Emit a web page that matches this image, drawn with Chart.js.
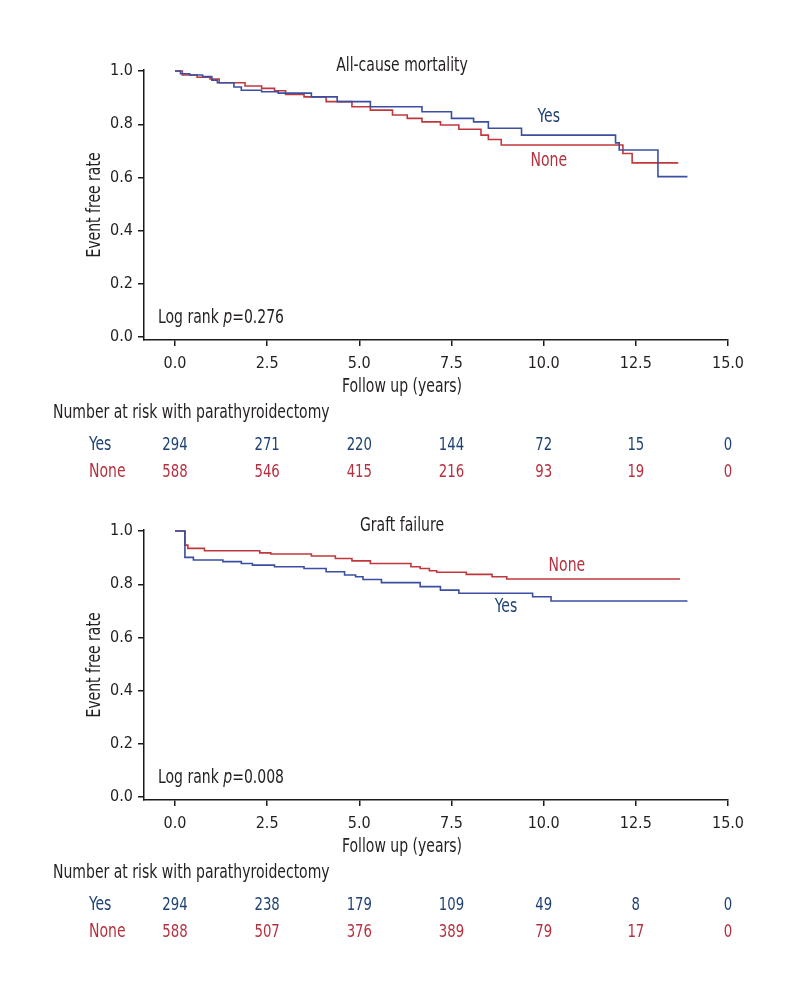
<!DOCTYPE html>
<html>
<head>
<meta charset="utf-8">
<script src="https://cdn.jsdelivr.net/npm/chart.js@4.4.1/dist/chart.umd.min.js"></script>
<style>
  html, body { margin: 0; padding: 0; background: #ffffff; }
  #wrap { width: 800px; height: 1000px; position: relative; }
  .box { position: absolute; left: 0; width: 800px; height: 500px; }
</style>
</head>
<body>
<div id="wrap">
  <div class="box" style="top:0px"><canvas id="c1" width="800" height="500"></canvas></div>
  <div class="box" style="top:460px"><canvas id="c2" width="800" height="500"></canvas></div>
</div>
<script>
// ---------- data ----------
const xTicks = [0, 2.5, 5, 7.5, 10, 12.5, 15];
const yTicks = [0, 0.2, 0.4, 0.6, 0.8, 1.0];
const groupLabels = ['Yes', 'None'];

const mortalityYesTime = [0, 0.15, 0.4, 0.75, 1.0, 1.15, 1.6, 1.8, 2.35, 2.8, 3.7, 4.4, 5.3, 6.7, 7.5, 8.1, 8.5, 9.4, 11.95, 12.05, 13.1, 13.9];
const mortalityYesSurv = [1.0, 0.99, 0.985, 0.979, 0.966, 0.956, 0.94, 0.928, 0.922, 0.917, 0.903, 0.885, 0.866, 0.847, 0.822, 0.809, 0.785, 0.759, 0.73, 0.703, 0.603, 0.603];
const mortalityNoneTime = [0, 0.2, 0.6, 0.95, 1.2, 1.9, 2.35, 2.7, 3.0, 3.5, 4.1, 4.8, 5.3, 5.9, 6.3, 6.7, 7.2, 7.7, 8.3, 8.5, 8.85, 12.15, 12.4, 13.65];
const mortalityNoneSurv = [1.0, 0.985, 0.977, 0.97, 0.956, 0.944, 0.935, 0.926, 0.912, 0.903, 0.885, 0.866, 0.853, 0.835, 0.822, 0.809, 0.797, 0.781, 0.759, 0.743, 0.722, 0.69, 0.655, 0.655];

const graftYesTime = [0, 0.27, 0.5, 1.3, 1.8, 2.1, 2.7, 3.5, 4.1, 4.6, 4.9, 5.1, 5.6, 6.65, 7.2, 7.7, 9.7, 10.2, 13.9];
const graftYesSurv = [1.0, 0.901, 0.891, 0.885, 0.878, 0.872, 0.866, 0.859, 0.847, 0.835, 0.828, 0.818, 0.806, 0.791, 0.778, 0.766, 0.753, 0.737, 0.737];
const graftNoneTime = [0, 0.27, 0.35, 0.8, 2.3, 2.6, 3.7, 4.35, 4.8, 5.3, 6.4, 6.65, 6.9, 7.1, 7.9, 8.6, 9.0, 13.7];
const graftNoneSurv = [1.0, 0.947, 0.935, 0.926, 0.918, 0.914, 0.906, 0.897, 0.888, 0.878, 0.866, 0.859, 0.851, 0.845, 0.837, 0.828, 0.820, 0.820];

const mortalityRiskYes = [294, 271, 220, 144, 72, 15, 0];
const mortalityRiskNone = [588, 546, 415, 216, 93, 19, 0];
const graftRiskYes = [294, 238, 179, 109, 49, 8, 0];
const graftRiskNone = [588, 507, 376, 389, 79, 17, 0];

// ---------- styles ----------
const FF = "'DejaVu Sans Condensed', 'DejaVu Sans', sans-serif";
const SX = 0.82; // horizontal squeeze for annotation text
const AXIS = '#1a1a1a';
const TEXT = '#231f20';
const BLUE_LINE = '#3b4fa2';
const RED_LINE = '#c0383c';
const BLUE_TEXT = '#1f4274';
const RED_TEXT = '#b5303f';

function pts(t, s) { return t.map((v, i) => ({ x: v, y: s[i] })); }

function txt(c, s, x, y, align, color, font) {
  c.save();
  c.font = font || ('19px ' + FF);
  c.fillStyle = color || TEXT;
  c.textAlign = align || 'left';
  c.textBaseline = 'middle';
  c.translate(x, y);
  c.scale(SX, 1);
  c.fillText(s, 0, 0);
  const w = c.measureText(s).width * SX;
  c.restore();
  return w;
}

function makeChart(id, cfg) {
  const annot = {
    id: 'annot_' + id,
    afterDraw(chart) {
      const c = chart.ctx, xs = chart.scales.x, ys = chart.scales.y, ca = chart.chartArea;
      txt(c, cfg.title, 402, 66, 'center');
      txt(c, 'Follow up (years)', 402, 387, 'center');
      c.save();
      c.translate(95, (ca.top + ca.bottom) / 2);
      c.rotate(-Math.PI / 2);
      txt(c, 'Event free rate', 0, 0, 'center');
      c.restore();
      // log rank
      let lx = 158;
      const ly = ys.getPixelForValue(0) - 19;
      lx += txt(c, 'Log rank ', lx, ly);
      lx += txt(c, 'p', lx, ly, 'left', TEXT, 'italic 19px ' + FF);
      txt(c, '=' + cfg.p, lx, ly);
      // curve labels
      txt(c, groupLabels[0], xs.getPixelForValue(cfg.yesLab[0]), ys.getPixelForValue(cfg.yesLab[1]), 'center', BLUE_TEXT);
      txt(c, groupLabels[1], xs.getPixelForValue(cfg.noneLab[0]), ys.getPixelForValue(cfg.noneLab[1]), 'center', RED_TEXT);
      // risk table
      txt(c, 'Number at risk with parathyroidectomy', 53, 413);
      txt(c, groupLabels[0], 89, 445, 'left', BLUE_TEXT);
      txt(c, groupLabels[1], 89, 472, 'left', RED_TEXT);
      xTicks.forEach((t, i) => {
        const px = xs.getPixelForValue(t);
        txt(c, String(cfg.riskYes[i]), px, 445, 'center', BLUE_TEXT, '18px ' + FF);
        txt(c, String(cfg.riskNone[i]), px, 472, 'center', RED_TEXT, '18px ' + FF);
      });
    }
  };

  return new Chart(document.getElementById(id), {
    type: 'line',
    data: {
      datasets: [
        { label: groupLabels[0], data: pts(cfg.yesT, cfg.yesS), borderColor: BLUE_LINE, borderWidth: 1.6, stepped: 'before', pointRadius: 0, fill: false },
        { label: groupLabels[1], data: pts(cfg.noneT, cfg.noneS), borderColor: RED_LINE, borderWidth: 1.6, stepped: 'before', pointRadius: 0, fill: false }
      ]
    },
    options: {
      responsive: false,
      animation: false,
      events: [],
      layout: { padding: { left: 0, right: 72, top: 70, bottom: 120 } },
      plugins: { legend: { display: false }, tooltip: { enabled: false }, title: { display: false } },
      scales: {
        x: {
          type: 'linear', min: -0.84, max: 15,
          afterBuildTicks: s => { s.ticks = xTicks.map(v => ({ value: v })); },
          afterFit: s => { s.height = 40; },
          ticks: { callback: v => Number(v).toFixed(1), color: TEXT, font: { family: FF, size: 16 }, padding: 8, maxRotation: 0, autoSkip: false },
          grid: { display: true, drawOnChartArea: false, drawTicks: true, tickLength: 6, color: AXIS, lineWidth: 1.5 },
          border: { display: true, color: AXIS, width: 1.5 }
        },
        y: {
          type: 'linear', min: -0.011, max: 1.004,
          afterBuildTicks: s => { s.ticks = yTicks.map(v => ({ value: v })); },
          afterFit: s => { s.width = 144; },
          ticks: { callback: v => Number(v).toFixed(1), color: TEXT, font: { family: FF, size: 16 }, padding: 5, autoSkip: false },
          grid: { display: true, drawOnChartArea: false, drawTicks: true, tickLength: 6, color: AXIS, lineWidth: 1.5 },
          border: { display: true, color: AXIS, width: 1.5 }
        }
      }
    },
    plugins: [annot]
  });
}

makeChart('c1', {
  title: 'All-cause mortality', p: '0.276',
  yesT: mortalityYesTime, yesS: mortalityYesSurv, noneT: mortalityNoneTime, noneS: mortalityNoneSurv,
  yesLab: [10.14, 0.827], noneLab: [10.14, 0.662],
  riskYes: mortalityRiskYes, riskNone: mortalityRiskNone
});
makeChart('c2', {
  title: 'Graft failure', p: '0.008',
  yesT: graftYesTime, yesS: graftYesSurv, noneT: graftNoneTime, noneS: graftNoneSurv,
  yesLab: [8.98, 0.714], noneLab: [10.63, 0.868],
  riskYes: graftRiskYes, riskNone: graftRiskNone
});
</script>
</body>
</html>
